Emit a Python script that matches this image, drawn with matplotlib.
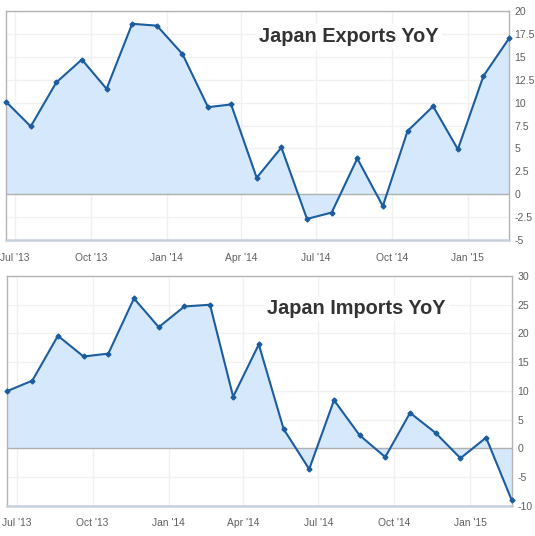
#!/usr/bin/env python3
"""Japan exports / imports YoY, two stacked area charts."""

import matplotlib
matplotlib.use("Agg")
import matplotlib.dates as mdates
import matplotlib.pyplot as plt
import numpy as np
import pandas as pd
from matplotlib.ticker import FuncFormatter, MultipleLocator

plt.rcParams["font.family"] = ["Liberation Sans", "DejaVu Sans"]

# release dates (about the 20th of each month)
DATES = pd.to_datetime([
    "2013-06-20", "2013-07-20", "2013-08-20", "2013-09-20", "2013-10-20",
    "2013-11-20", "2013-12-20", "2014-01-20", "2014-02-20", "2014-03-20",
    "2014-04-20", "2014-05-20", "2014-06-20", "2014-07-20", "2014-08-20",
    "2014-09-20", "2014-10-20", "2014-11-20", "2014-12-20", "2015-01-20",
    "2015-02-20",
])

EXPORTS = [10.1, 7.4, 12.2, 14.7, 11.5, 18.6, 18.4, 15.3, 9.5, 9.8, 1.8,
           5.1, -2.7, -2.0, 3.9, -1.3, 6.9, 9.6, 4.9, 12.9, 17.0]
IMPORTS = [10.0, 11.8, 19.6, 16.0, 16.5, 26.1, 21.1, 24.7, 25.0, 9.0, 18.1,
           3.4, -3.6, 8.4, 2.3, -1.5, 6.2, 2.7, -1.7, 1.9, -9.0]

PANELS = [
    ("Japan Exports YoY", EXPORTS, (-5, 20), 2.5),
    ("Japan Imports YoY", IMPORTS, (-10, 30), 5),
]

LINE = "#1b5d9e"
FILL = "#d6e8fc"
GRID = "#f0f0f0"
LABEL = "#606060"


def fmt(v, _pos):
    return f"{v:g}"


def draw(ax, title, values, ylim, step, title_xy):
    ax.fill_between(DATES, values, 0, color=FILL, lw=0, zorder=2)
    ax.axhline(0, color="#b0b0b0", lw=1, zorder=3)
    ax.plot(DATES, values, color=LINE, lw=1.5, marker="D", ms=2.5,
            zorder=4, clip_on=False)

    ax.set_xlim(DATES[0], DATES[-1])
    ax.set_ylim(*ylim)
    ax.yaxis.set_major_locator(MultipleLocator(step))
    ax.yaxis.set_major_formatter(FuncFormatter(fmt))
    ax.yaxis.tick_right()
    ax.xaxis.set_major_locator(mdates.MonthLocator(bymonth=[1, 4, 7, 10]))
    ax.xaxis.set_major_formatter(mdates.DateFormatter("%b '%y"))
    ax.tick_params(axis="y", length=0, pad=4, labelsize=7.6, labelcolor=LABEL)
    ax.tick_params(axis="x", length=0, pad=9, labelsize=7.4, labelcolor=LABEL)
    ax.grid(True, color=GRID, lw=1, zorder=0)
    ax.set_axisbelow(True)

    for side in ("top", "left", "right"):
        ax.spines[side].set_color("#b4b4b4")
        ax.spines[side].set_linewidth(1)
    ax.spines["bottom"].set_color("#c6d0dc")
    ax.spines["bottom"].set_linewidth(1.8)

    ax.text(*title_xy, title, transform=ax.transAxes, ha="center",
            va="baseline", fontsize=14.3, fontweight="bold", color="#333333",
            zorder=5,
            bbox={"boxstyle": "square,pad=0.15", "fc": "white", "ec": "none"})


fig = plt.figure(figsize=(5.35, 5.36), dpi=100)
ax1 = fig.add_axes([0.0112, 0.5522, 0.9402, 0.4273])
ax2 = fig.add_axes([0.0140, 0.0560, 0.9425, 0.4291])

draw(ax1, *PANELS[0], title_xy=(0.682, 0.863))
draw(ax2, *PANELS[1], title_xy=(0.692, 0.833))

fig.savefig("out.png", dpi=100)
